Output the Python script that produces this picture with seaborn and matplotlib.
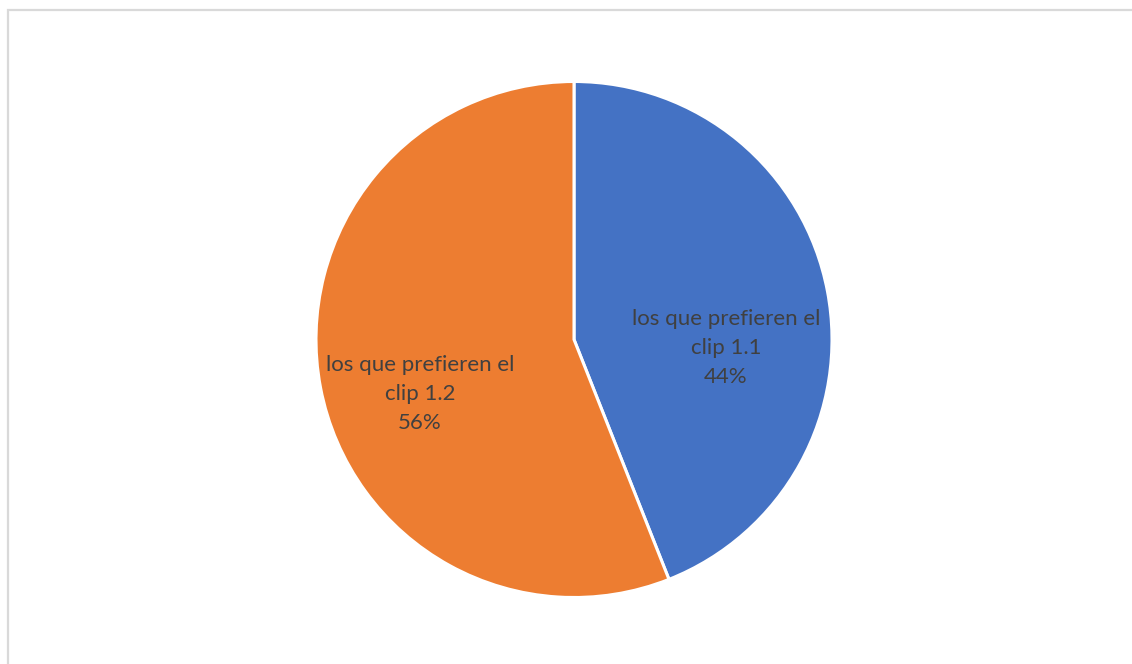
import matplotlib
matplotlib.use("Agg")
import matplotlib.pyplot as plt
from matplotlib.patches import Rectangle
import seaborn as sns

categories = ["los que prefieren el\nclip 1.1", "los que prefieren el\nclip 1.2"]
shares = [44, 56]
colors = ["#4472C4", "#ED7D31"]

sns.set_theme(style="white")
plt.rcParams["font.family"] = ["Lato", "DejaVu Sans"]
palette = sns.color_palette(colors)

W, H = 1132, 664
fig = plt.figure(figsize=(W / 100, H / 100), dpi=100)
fig.patch.set_facecolor("white")

# thin light frame around the chart area
fig.patches.append(Rectangle((7.5 / W, -0.01), 1.02, 1 - 9.5 / H + 0.01,
                             transform=fig.transFigure, fill=False,
                             edgecolor="#d9d9d9", linewidth=1.6))

ax = fig.add_axes([0, 0, 1, 1])

cx, cy, r = 574, H - 339.5, 258
wedges, _ = ax.pie(shares, colors=palette, startangle=90, counterclock=False,
                   center=(cx, cy), radius=r, frame=True,
                   wedgeprops=dict(edgecolor="white", linewidth=2.2))
ax.set_xlim(0, W)
ax.set_ylim(0, H)
ax.set_aspect("equal")
ax.axis("off")

label_pos = [(726, H - 348), (420, H - 394)]
for (x, y), cat, val in zip(label_pos, categories, shares):
    ax.text(x, y, f"{cat}\n{val}%", ha="center", va="center", fontsize=16,
            color="#404040", linespacing=1.55)

fig.savefig("out.png", dpi=100, facecolor="white")
